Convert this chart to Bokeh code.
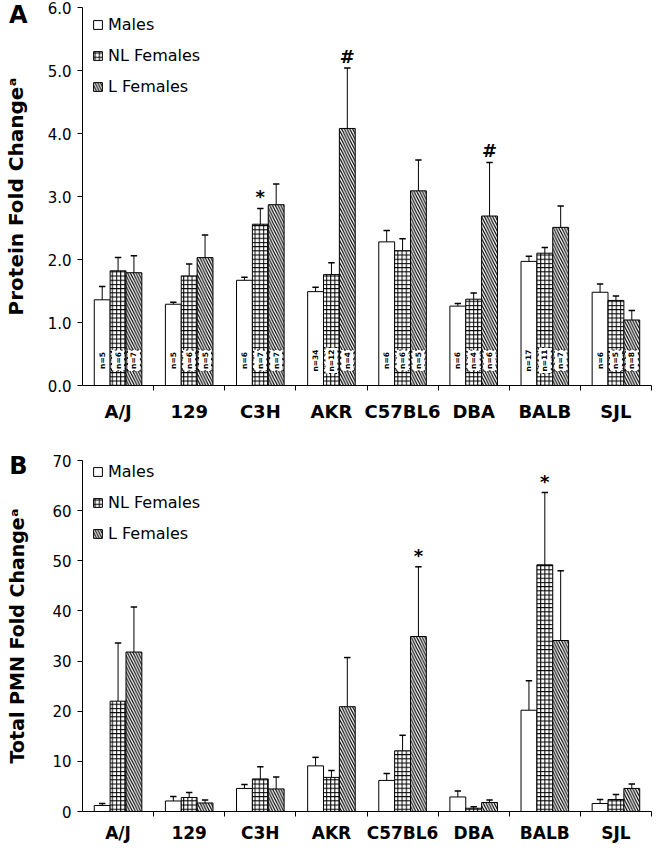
import math
from bokeh.plotting import figure
from bokeh.models import ColumnDataSource, FixedTicker, Range1d, Legend, LegendItem, LinearAxis
from bokeh.layouts import column
from bokeh.embed import file_html
from bokeh.resources import INLINE
from bokeh.core.properties import value

# ---------------- data ----------------
strains = ["A/J", "129", "C3H", "AKR", "C57BL6", "DBA", "BALB", "SJL"]
groups = ["Males", "NL Females", "L Females"]

protein_males = [1.36, 1.29, 1.67, 1.49, 2.28, 1.26, 1.97, 1.48]
protein_males_err = [0.21, 0.03, 0.05, 0.07, 0.18, 0.04, 0.08, 0.13]
protein_nl = [1.82, 1.74, 2.56, 1.76, 2.14, 1.37, 2.10, 1.35]
protein_nl_err = [0.21, 0.19, 0.25, 0.19, 0.19, 0.10, 0.09, 0.07]
protein_l = [1.79, 2.03, 2.87, 4.08, 3.09, 2.69, 2.51, 1.04]
protein_l_err = [0.27, 0.36, 0.33, 0.96, 0.49, 0.85, 0.34, 0.15]

n_males = [5, 5, 6, 34, 6, 6, 17, 6]
n_nl = [6, 6, 7, 12, 6, 4, 11, 5]
n_l = [7, 5, 7, 4, 5, 6, 7, 8]

pmn_males = [1.2, 2.1, 4.6, 9.1, 6.2, 2.9, 20.2, 1.6]
pmn_males_err = [0.4, 0.9, 0.8, 1.7, 1.4, 1.2, 5.9, 0.8]
pmn_nl = [22.0, 2.8, 6.5, 6.8, 12.1, 0.65, 49.2, 2.4]
pmn_nl_err = [11.6, 1.0, 2.4, 1.4, 3.1, 0.3, 14.4, 1.0]
pmn_l = [31.8, 1.7, 4.5, 20.9, 34.9, 1.8, 34.1, 4.6]
pmn_l_err = [9.0, 0.6, 2.4, 9.8, 13.9, 0.5, 13.9, 0.9]

protein_marks = [("C3H", "NL Females", "*"), ("AKR", "L Females", "#"), ("DBA", "L Females", "#")]
pmn_marks = [("C57BL6", "L Females", "*"), ("BALB", "NL Females", "*")]

protein_ticks = [0, 1, 2, 3, 4, 5, 6]
protein_tick_labels = ["0.0", "1.0", "2.0", "3.0", "4.0", "5.0", "6.0"]
pmn_ticks = [0, 10, 20, 30, 40, 50, 60, 70]
pmn_tick_labels = ["0", "10", "20", "30", "40", "50", "60", "70"]

# ---------------- style ----------------
FONT = "DejaVu Sans"
BAR_W = 0.223
CAP = 0.045
BAR_STYLE = {
    "Males": dict(),
    "NL Females": dict(hatch_pattern="+", hatch_scale=4.2, hatch_weight=1.0, hatch_color="black"),
    "L Females": dict(hatch_pattern="\\", hatch_scale=5.5, hatch_weight=1.2, hatch_color="black"),
}
LEG_SPACING = 12
LEG_ROW = 19


def make_panel(means, errs, ns, marks, ymax, ticks, tick_labels, ylabel, letter,
               height, top, bottom, legend_dy, letter_px, letter_standoff,
               xlab_size, xlab_standoff, ylab_size):
    p = figure(width=653, height=height, x_range=Range1d(0, len(strains)),
               y_range=Range1d(0, ymax), output_backend="svg", toolbar_location=None,
               min_border_left=74, min_border_right=2, min_border_top=top,
               min_border_bottom=bottom)
    frame_h = height - top - bottom
    p.outline_line_color = None
    p.grid.visible = False

    items = []
    for j, g in enumerate(groups):
        xs = [i + 0.5 + (j - 1) * BAR_W for i in range(len(strains))]
        et = [m + e for m, e in zip(means[j], errs[j])]
        src = ColumnDataSource(dict(
            x=xs, top=means[j], et=et,
            c0=[x - CAP for x in xs], c1=[x + CAP for x in xs],
        ))
        r = p.vbar(x="x", top="top", width=BAR_W, source=src, fill_color="white",
                   line_color="black", line_width=1, **BAR_STYLE[g])
        p.segment(x0="x", y0="top", x1="x", y1="et", source=src, line_color="black", line_width=1)
        p.segment(x0="c0", y0="et", x1="c1", y1="et", source=src, line_color="black", line_width=1.5)
        items.append(LegendItem(label=g, renderers=[r]))

        if ns is not None:
            nsrc = ColumnDataSource(dict(
                x=xs, y=[0] * len(xs), text=["n=%d" % n for n in ns[j]],
            ))
            p.text(x="x", y="y", text="text", source=nsrc, angle=math.pi / 2,
                   text_align="center", text_baseline="middle", y_offset=-25,
                   text_font=value(FONT), text_font_size="7.5px", text_font_style="bold",
                   text_color="black",
                   background_fill_color="white",
                   border_line_color="black" if j > 0 else None,
                   border_line_dash="dotted", border_line_width=1, padding=2)

    mx, my, mt = [], [], []
    for s, g, sym in marks:
        i = strains.index(s)
        j = groups.index(g)
        mx.append(i + 0.5 + (j - 1) * BAR_W)
        my.append(means[j][i] + errs[j][i])
        mt.append(sym)
    p.text(x=mx, y=my, text=mt, text_align="center", text_baseline="bottom", y_offset=-1,
           text_font=value(FONT), text_font_size="18px", text_font_style="bold",
           text_color="black")

    # x axis
    xa = p.xaxis[0]
    xa.ticker = FixedTicker(ticks=[i + 0.5 for i in range(len(strains))],
                            minor_ticks=list(range(1, len(strains) + 1)))
    xa.major_label_overrides = {i + 0.5: s for i, s in enumerate(strains)}
    xa.major_tick_out = 0
    xa.major_tick_in = 0
    xa.minor_tick_out = 5
    xa.minor_tick_in = 0
    xa.axis_line_color = "black"
    xa.minor_tick_line_color = "black"
    xa.major_label_text_font = FONT
    xa.major_label_text_font_size = xlab_size
    xa.major_label_text_font_style = "bold"
    xa.major_label_text_color = "black"
    xa.major_label_standoff = xlab_standoff

    # y axis (ticks only)
    ya = p.yaxis[0]
    ya.ticker = FixedTicker(ticks=ticks, minor_ticks=[])
    ya.major_label_overrides = {t: l for t, l in zip(ticks, tick_labels)}
    ya.major_tick_out = 5
    ya.major_tick_in = 0
    ya.minor_tick_out = 0
    ya.axis_line_color = "black"
    ya.major_tick_line_color = "black"
    ya.major_label_text_font = FONT
    ya.major_label_text_font_size = "15px"
    ya.major_label_text_color = "black"
    ya.major_label_standoff = 6

    # outer left axis: carries the panel letter (as its single tick label) and the title
    letter_pos = round(ymax * (1 - letter_px / frame_h), 4)
    outer = LinearAxis(ticker=FixedTicker(ticks=[letter_pos], minor_ticks=[]),
                       major_label_overrides={letter_pos: letter},
                       axis_line_color=None, major_tick_line_color=None,
                       minor_tick_line_color=None, major_tick_out=0, major_tick_in=0,
                       minor_tick_out=0, minor_tick_in=0,
                       major_label_standoff=letter_standoff,
                       major_label_text_font=FONT, major_label_text_font_size="24px",
                       major_label_text_font_style="bold", major_label_text_color="black",
                       axis_label=ylabel, axis_label_standoff=-22,
                       axis_label_text_font=FONT, axis_label_text_font_size=ylab_size,
                       axis_label_text_font_style="bold", axis_label_text_color="black")
    p.add_layout(outer, "left")

    leg_h = 3 * LEG_ROW + 2 * LEG_SPACING
    leg = Legend(items=items, location=(10, frame_h - leg_h - legend_dy),
                 orientation="vertical", glyph_width=11, glyph_height=11,
                 label_height=16, spacing=LEG_SPACING, padding=0, margin=0, label_standoff=5,
                 label_text_font=FONT, label_text_font_size="16px", label_text_color="black",
                 border_line_color=None, background_fill_alpha=0)
    p.add_layout(leg)
    return p


pA = make_panel([protein_males, protein_nl, protein_l],
                [protein_males_err, protein_nl_err, protein_l_err],
                [n_males, n_nl, n_l], protein_marks, 6, protein_ticks, protein_tick_labels,
                "Protein Fold Changeᵃ", "A", height=424, top=7, bottom=38,
                legend_dy=9, letter_px=7, letter_standoff=17,
                xlab_size="18px", xlab_standoff=10, ylab_size="20px")
pB = make_panel([pmn_males, pmn_nl, pmn_l],
                [pmn_males_err, pmn_nl_err, pmn_l_err],
                None, pmn_marks, 70, pmn_ticks, pmn_tick_labels,
                "Total PMN Fold Changeᵃ", "B", height=421, top=36, bottom=29,
                legend_dy=7, letter_px=6, letter_standoff=22,
                xlab_size="17px", xlab_standoff=6, ylab_size="19px")

layout = column(pA, pB)
open("out.html", "w").write(file_html(layout, INLINE))
